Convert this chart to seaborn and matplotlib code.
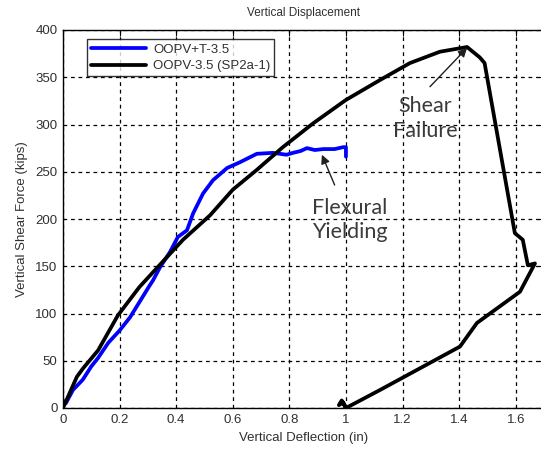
import matplotlib
matplotlib.use("Agg")
import matplotlib.pyplot as plt
import seaborn as sns
import pandas as pd

# ---- data ----
blue_x = [0.0, 0.0, 0.01, 0.035, 0.07, 0.10, 0.124, 0.16, 0.2, 0.237, 0.27, 0.307, 0.318,
          0.343, 0.378, 0.406, 0.438, 0.46, 0.495, 0.53, 0.58, 0.625, 0.685, 0.742,
          0.79, 0.813, 0.84, 0.862, 0.89, 0.92, 0.96, 0.99, 1.0, 1.0]
blue_y = [0, 8, 5, 19, 30, 44, 53, 69, 82, 96, 112, 130, 135,
          149, 165, 181, 188, 206, 227, 241, 254, 260, 269, 270,
          268, 270, 272, 275, 273, 274, 274, 276, 276, 266]

black_x = [0.0, 0.049, 0.071, 0.124, 0.194, 0.27, 0.353, 0.424, 0.52, 0.60, 0.685, 0.777,
           0.883, 1.0, 1.12, 1.226, 1.332, 1.428, 1.473, 1.49, 1.597, 1.625, 1.643,
           1.668, 1.615, 1.463, 1.403, 1.12, 1.0, 0.985, 0.975, 0.99, 1.0]
black_y = [0, 33, 42, 61, 98, 128, 155, 178, 204, 231, 252, 276,
           301, 326, 347, 365, 377, 382, 371, 365, 185, 178, 151,
           153, 123, 90, 65, 19, 0, 8, 3, 6, 0]

series_names = ["OOPV+T-3.5", "OOPV-3.5 (SP2a-1)"]
x_ticks = [0, 0.2, 0.4, 0.6, 0.8, 1.0, 1.2, 1.4, 1.6]
x_tick_labels = ["0", "0.2", "0.4", "0.6", "0.8", "1", "1.2", "1.4", "1.6"]
y_ticks = [0, 50, 100, 150, 200, 250, 300, 350, 400]

df = pd.concat([
    pd.DataFrame({"x": blue_x, "y": blue_y, "series": series_names[0]}),
    pd.DataFrame({"x": black_x, "y": black_y, "series": series_names[1]}),
], ignore_index=True)

sns.set_style("white")
plt.rcParams["font.family"] = ["Liberation Sans", "DejaVu Sans"]
text_col = "#303030"

fig = plt.figure(figsize=(5.41, 4.53), dpi=100)
ax = fig.add_axes([63 / 541, (453 - 408) / 453, (544 - 63) / 541, 378 / 453])

sns.lineplot(data=df, x="x", y="y", hue="series", sort=False, estimator=None,
             palette={series_names[0]: "#0000ff", series_names[1]: "#000000"},
             linewidth=2.7, ax=ax, legend=True)

ax.set_xlim(0, 1.7)
ax.set_ylim(0, 400)
ax.set_xticks(x_ticks)
ax.set_xticklabels(x_tick_labels)
ax.set_yticks(y_ticks)
ax.tick_params(direction="in", top=True, right=True, length=4, width=0.8,
               labelsize=9.5, colors="black", labelcolor=text_col, pad=4)
ax.grid(True, linestyle=(0, (3, 3)), color="black", linewidth=0.9)
for s in ax.spines.values():
    s.set_color("black")
    s.set_linewidth(1)

ax.set_xlabel("Vertical Deflection (in)", fontsize=9.5, color=text_col, labelpad=5)
ax.set_ylabel("Vertical Shear Force (kips)", fontsize=9.5, color=text_col, labelpad=5)
ax.set_title("Vertical Displacement", fontsize=8.5, color=text_col, pad=10)

leg = ax.legend(loc="upper left", bbox_to_anchor=(0.05, 0.975), fontsize=9.5,
                frameon=True, fancybox=False, edgecolor="black", handlelength=4.2,
                borderpad=0.3, labelspacing=0.35, handletextpad=0.5,
                borderaxespad=0)
leg.get_frame().set_linewidth(1)
for t in leg.get_texts():
    t.set_color(text_col)

ann_font = dict(fontsize=15.5, family=["Lato", "DejaVu Sans"], color="#3a3a3a",
                ha="center", va="center", linespacing=1.3)
arrow = dict(arrowstyle="-|>", color="#202020", lw=1, shrinkA=0, shrinkB=0,
             mutation_scale=13)

ax.text(1.014, 199, "Flexural\nYielding", **ann_font)
ax.annotate("", xy=(0.915, 268), xytext=(0.96, 236), arrowprops=arrow)

ax.text(1.28, 306, "Shear\nFailure", **ann_font)
ax.annotate("", xy=(1.428, 381), xytext=(1.297, 340), arrowprops=arrow)

fig.savefig("out.png", dpi=100)
